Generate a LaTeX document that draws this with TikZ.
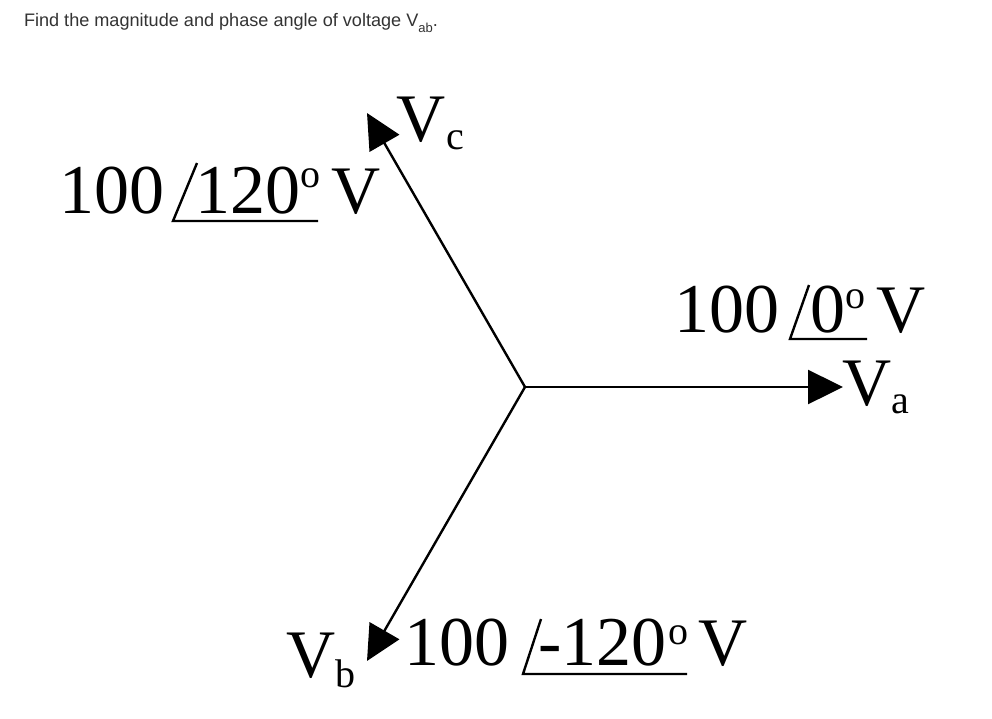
\documentclass[tikz,border=0pt]{standalone}
\usepackage{fontspec}
\setmainfont{Liberation Serif}
\newfontfamily\titlefont{Liberation Sans}
\usetikzlibrary{arrows.meta}
\definecolor{titlegray}{HTML}{333333}
\tikzset{
  big/.style={font=\fontsize{70}{70}\selectfont, inner sep=0pt, outer sep=0pt, anchor=base west},
  vlet/.style={font=\fontsize{68}{68}\selectfont, inner sep=0pt, outer sep=0pt, anchor=base west},
  subs/.style={font=\fontsize{40}{40}\selectfont, inner sep=0pt, outer sep=0pt, anchor=base west},
  deg/.style={font=\fontsize{40}{40}\selectfont, inner sep=0pt, outer sep=0pt, anchor=base west},
  phasor/.style={line width=2.4pt, -{Triangle[length=35pt,width=34pt]}},
  anglesign/.style={line width=2.4pt},
  title/.style={font=\titlefont\fontsize{18.1}{18.1}\selectfont, text=titlegray, inner sep=0pt, outer sep=0pt, anchor=base west}
}
\begin{document}
\begin{tikzpicture}[x=1pt,y=-1pt]
\useasboundingbox[fill=white] (0,0) rectangle (992,718);
% title
\node[title] (t) at (24,26) {Find the magnitude and phase angle of voltage V\raisebox{-6pt}{\fontsize{13}{13}\selectfont ab}.};
% phasors
\coordinate (O) at (525,387);
\coordinate (A) at (843,387);
\coordinate (C) at (367,113);
\coordinate (B) at (367,661);
\draw[phasor] (O) -- (A);
\draw[phasor] (O) -- (C);
\draw[phasor] (O) -- (B);
% V labels
\node[vlet] (Vc) at (396,141) {V};
\node[subs] (c) at (446,149) {c};
\node[vlet] (Va) at (842,405) {V};
\node[subs] (a) at (891,413) {a};
\node[vlet] (Vb) at (286,677) {V};
\node[subs] (b) at (335,687) {b};
% label 1: 100 /120 V
\node[big] (m1) at (59,213) {100};
\node[big] (p1) at (195,213) {120};
\node[deg] (o1) at (300,187) {o};
\node[vlet] (u1) at (331,213) {V};
\coordinate (s1) at (173,221);
\coordinate (s1t) at (197,163);
\coordinate (e1) at (318,221);
\draw[anglesign] (s1t) -- (s1) -- (e1);
% label 2: 100 /0 V
\node[big] (m2) at (674,332) {100};
\node[big] (p2) at (810,332) {0};
\node[deg] (o2) at (845,308) {o};
\node[vlet] (u2) at (876,332) {V};
\coordinate (s2) at (790,339);
\coordinate (s2t) at (809,285);
\coordinate (e2) at (867,339);
\draw[anglesign] (s2t) -- (s2) -- (e2);
% label 3: 100 /-120 V
\node[big] (m3) at (404,665) {100};
\node[big] (p3) at (538,665) {-120};
\node[deg] (o3) at (668,644) {o};
\node[vlet] (u3) at (698,665) {V};
\coordinate (s3) at (523,674);
\coordinate (s3t) at (541,619);
\coordinate (e3) at (687,674);
\draw[anglesign] (s3t) -- (s3) -- (e3);
\end{tikzpicture}
\end{document}
